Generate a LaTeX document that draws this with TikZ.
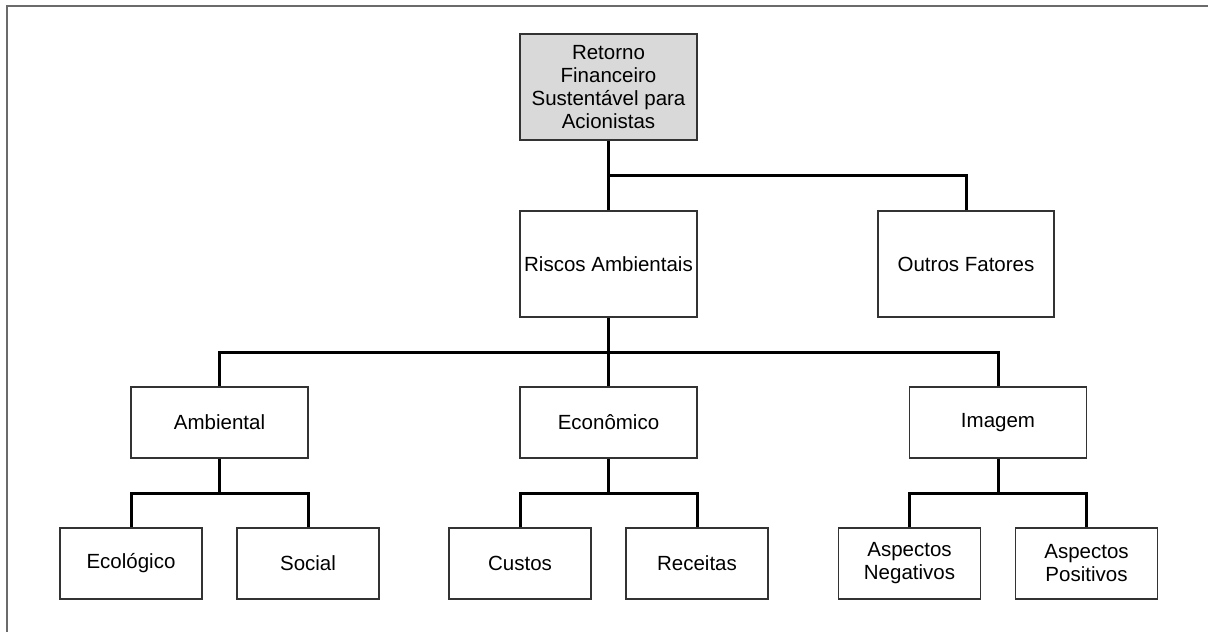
\documentclass[tikz,border=0pt]{standalone}
\usepackage{fontspec}
\setmainfont{Liberation Sans}
\usetikzlibrary{calc}
\begin{document}
\begin{tikzpicture}[x=1pt,y=-1pt,
  box/.style={draw=black!80,line width=1.2pt,inner sep=0pt,align=center,
    font=\fontsize{20.5}{23}\selectfont},
  wide/.style={box,minimum width=177pt,minimum height=106pt},
  mid/.style={box,minimum width=177pt,minimum height=71pt},
  leaf/.style={box,minimum width=142pt,minimum height=71pt},
  conn/.style={draw=black,line width=3pt,line join=miter}]
\useasboundingbox (0,0) rectangle (1208,632);
% frame
\draw[draw=black!58,line width=2.2pt] (7,640) -- (7,6) -- (1215,6);
% boxes
\node[wide,fill=black!15] (top) at (608.5,87) {Retorno\\Financeiro\\Sustentável para\\Acionistas};
\node[wide] (risk) at (608.5,264) {Riscos Ambientais};
\node[wide,minimum width=176pt] (other) at (966,264) {Outros Fatores};
\node[mid] (amb) at (219.5,422.5) {Ambiental};
\node[mid] (eco) at (608.5,422.5) {Econômico};
\node[mid] (img) at (998,422.5) {Imagem};
\node[leaf] (ecol) at (131,563.5) {Ecológico};
\node[leaf] (soc) at (308,563.5) {Social};
\node[leaf] (cost) at (520,563.5) {Custos};
\node[leaf] (rev) at (697,563.5) {Receitas};
\node[leaf] (neg) at (909.5,563.5) {Aspectos\\Negativos};
\node[leaf] (pos) at (1086.5,563.5) {Aspectos\\Positivos};
% junctions
\coordinate (j0) at ($(top.south)!.5!(top.south |- risk.north)$);
\coordinate (j1) at ($(risk.south)!.5!(risk.south |- amb.north)$);
\coordinate (j2) at ($(amb.south)!.5!(amb.south |- ecol.north)$);
\coordinate (j3) at ($(eco.south)!.5!(eco.south |- cost.north)$);
\coordinate (j4) at ($(img.south)!.5!(img.south |- neg.north)$);
% connectors
\draw[conn] (top.south) -- (risk.north);
\draw[conn] (j0) -| (other.north);
\draw[conn] (risk.south) -- (eco.north);
\draw[conn] (amb.north) |- (j1) -| (img.north);
\draw[conn] (amb.south) -- (j2);
\draw[conn] (ecol.north) |- (j2) -| (soc.north);
\draw[conn] (eco.south) -- (j3);
\draw[conn] (cost.north) |- (j3) -| (rev.north);
\draw[conn] (img.south) -- (j4);
\draw[conn] (neg.north) |- (j4) -| (pos.north);
\end{tikzpicture}
\end{document}
